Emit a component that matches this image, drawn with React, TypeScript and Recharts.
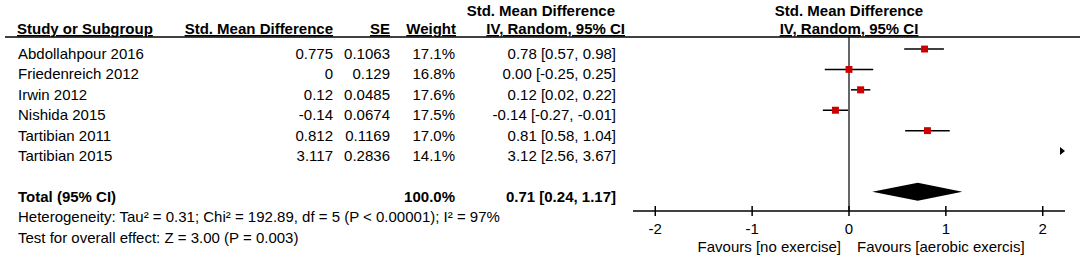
import React from 'react';
import { ComposedChart, Scatter, ErrorBar, XAxis, YAxis, ReferenceLine, ReferenceArea } from 'recharts';

// study table
const studies = ['Abdollahpour 2016', 'Friedenreich 2012', 'Irwin 2012', 'Nishida 2015', 'Tartibian 2011', 'Tartibian 2015'];
const smdValues = ['0.775', '0', '0.12', '-0.14', '0.812', '3.117'];
const seValues = ['0.1063', '0.129', '0.0485', '0.0674', '0.1169', '0.2836'];
const weights = [17.1, 16.8, 17.6, 17.5, 17.0, 14.1];
const estimates = [0.78, 0.0, 0.12, -0.14, 0.81, 3.12];
const lower = [0.57, -0.25, 0.02, -0.27, 0.58, 2.56];
const upper = [0.98, 0.25, 0.22, -0.01, 1.04, 3.67];

// pooled result
const totalLabel = 'Total (95% CI)';
const totalWeight = 100.0;
const totalEst = 0.71;
const totalLower = 0.24;
const totalUpper = 1.17;
const heterogeneity = 'Heterogeneity: Tau\u00B2 = 0.31; Chi\u00B2 = 192.89, df = 5 (P < 0.00001); I\u00B2 = 97%';
const overallTest = 'Test for overall effect: Z = 3.00 (P = 0.003)';

const xTicks = [-2, -1, 0, 1, 2];
const favoursLeft = 'Favours [no exercise]';
const favoursRight = 'Favours [aerobic exercis]';

const X_MIN = -2.23;
const X_MAX = 2.23;
const Y_TOP = -0.59;
const Y_BOTTOM = 7.94;
const TOTAL_ROW = studies.length + 1;

const FONT = '"Liberation Sans", Arial, sans-serif';
const FS = 15;

const ci = (e: number, l: number, h: number) => `${e.toFixed(2)} [${l.toFixed(2)}, ${h.toFixed(2)}]`;

const points = studies
  .map((name, i) => ({ name, x: estimates[i], y: i, w: weights[i], err: [estimates[i] - lower[i], upper[i] - estimates[i]], lo: lower[i] }))
  .filter(p => p.lo <= X_MAX);

// studies whose CI lies past the axis get an arrow at the edge
const overflow = studies
  .map((name, i) => ({ name, x: X_MAX, y: i, lo: lower[i] }))
  .filter(p => p.lo > X_MAX);

const Square = (props: any) => {
  const { cx, cy, payload } = props;
  const s = 7 * Math.sqrt(payload.w / 17.5);
  return <rect x={cx - s / 2} y={cy - s / 2} width={s} height={s} fill="#cc0000" />;
};

const Arrow = (props: any) => {
  const { cx, cy } = props;
  return <polygon points={`${cx - 5},${cy - 4} ${cx},${cy} ${cx - 5},${cy + 4}`} fill="#000" />;
};

const Diamond = (props: any) => {
  const { x, y, width, height } = props;
  const mid = x + (width * (totalEst - totalLower)) / (totalUpper - totalLower);
  return (
    <polygon
      points={`${x},${y + height / 2} ${mid},${y} ${x + width},${y + height / 2} ${mid},${y + height}`}
      fill="#000"
    />
  );
};

const txt = { fontFamily: FONT, fontSize: FS, fill: '#000' };

const RowTick = (props: any) => {
  const { y, payload } = props;
  const r = payload.value;
  const base = y + 10;
  if (r === TOTAL_ROW) {
    return (
      <g style={txt}>
        <text x={18} y={base} fontWeight="bold">{totalLabel}</text>
        <text x={455} y={base} textAnchor="end" fontWeight="bold">{totalWeight.toFixed(1)}%</text>
        <text x={616} y={base} textAnchor="end" fontWeight="bold">{ci(totalEst, totalLower, totalUpper)}</text>
        <text x={18} y={base + 20.5}>{heterogeneity}</text>
        <text x={18} y={base + 41.5}>{overallTest}</text>
      </g>
    );
  }
  return (
    <g style={txt}>
      <text x={18} y={base}>{studies[r]}</text>
      <text x={333} y={base} textAnchor="end">{smdValues[r]}</text>
      <text x={390} y={base} textAnchor="end">{seValues[r]}</text>
      <text x={455} y={base} textAnchor="end">{weights[r].toFixed(1)}%</text>
      <text x={616} y={base} textAnchor="end">{ci(estimates[r], lower[r], upper[r])}</text>
    </g>
  );
};

const AxisTick = (props: any) => {
  const { x, y, payload } = props;
  return (
    <g style={txt}>
      <line x1={x} x2={x} y1={y - 10} y2={y} stroke="#000" strokeWidth={1.5} />
      <text x={x} y={y + 18} textAnchor="middle">{payload.value}</text>
      {payload.value === 0 && (
        <>
          <text x={x - 8} y={y + 36} textAnchor="end">{favoursLeft}</text>
          <text x={x + 8} y={y + 36}>{favoursRight}</text>
        </>
      )}
    </g>
  );
};

export default function App() {
  return (
    <div style={{ position: 'absolute', left: 0, top: 0, width: 1084, height: 259, background: '#fff' }}>
      <ComposedChart width={1084} height={259} margin={{ top: 37, right: 19, bottom: 0, left: 0 }}>
        <XAxis
          type="number"
          dataKey="x"
          domain={[X_MIN, X_MAX]}
          allowDataOverflow
          ticks={xTicks}
          interval={0}
          height={48}
          tickSize={5}
          tickMargin={0}
          tickLine={false}
          axisLine={{ stroke: '#000', strokeWidth: 1.5 }}
          tick={<AxisTick />}
        />
        <YAxis
          type="number"
          dataKey="y"
          domain={[Y_TOP, Y_BOTTOM]}
          reversed
          allowDataOverflow
          ticks={[0, 1, 2, 3, 4, 5, TOTAL_ROW]}
          interval={0}
          width={633}
          axisLine={false}
          tickLine={false}
          tick={<RowTick />}
        />
        <ReferenceLine x={0} stroke="#333" strokeWidth={1.5} />
        <ReferenceArea
          x1={totalLower}
          x2={totalUpper}
          y1={TOTAL_ROW - 0.44}
          y2={TOTAL_ROW + 0.44}
          shape={<Diamond />}
        />
        <Scatter data={points} shape={<Square />} isAnimationActive={false}>
          <ErrorBar dataKey="err" direction="x" width={0} stroke="#000" strokeWidth={1.5} isAnimationActive={false} />
        </Scatter>
        <Scatter data={overflow} shape={<Arrow />} isAnimationActive={false} />
      </ComposedChart>
      <svg width={1084} height={259} style={{ position: 'absolute', left: 0, top: 0, pointerEvents: 'none' }}>
        <g style={{ ...txt, fontWeight: 'bold' }}>
          <text x={17} y={34} textDecoration="underline">Study or Subgroup</text>
          <text x={333} y={34} textAnchor="end" textDecoration="underline">Std. Mean Difference</text>
          <text x={390} y={34} textAnchor="end" textDecoration="underline">SE</text>
          <text x={456} y={34} textAnchor="end" textDecoration="underline">Weight</text>
          <text x={615} y={16} textAnchor="end">Std. Mean Difference</text>
          <text x={625} y={34} textAnchor="end" textDecoration="underline">IV, Random, 95% CI</text>
          <text x={849} y={16} textAnchor="middle">Std. Mean Difference</text>
          <text x={849} y={34} textAnchor="middle" textDecoration="underline">IV, Random, 95% CI</text>
        </g>
        <line x1={5} x2={1080} y1={37} y2={37} stroke="#000" strokeWidth={1.5} />
      </svg>
    </div>
  );
}
